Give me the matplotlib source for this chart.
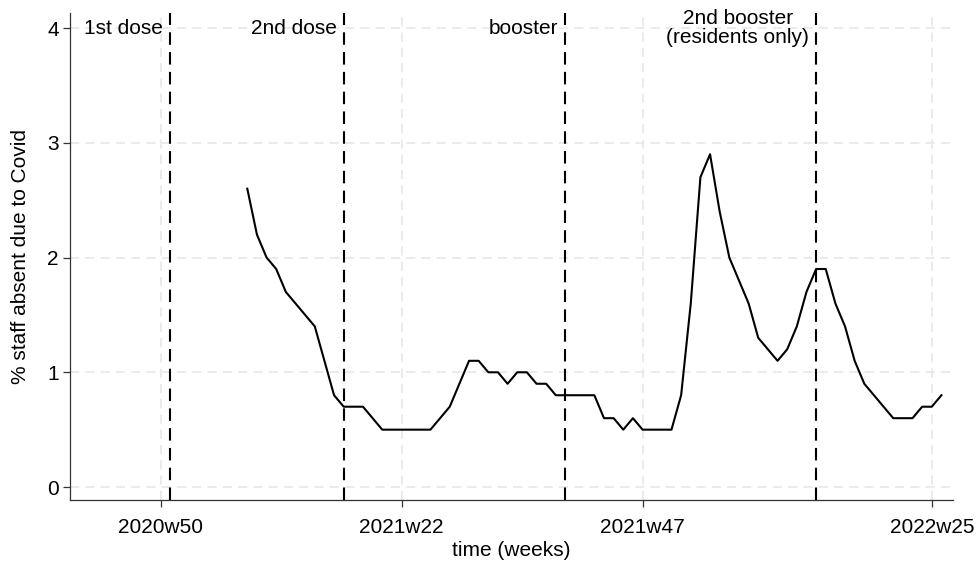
import numpy as np
import matplotlib
matplotlib.use("Agg")
import matplotlib.pyplot as plt

plt.rcParams['font.family'] = ['Liberation Sans', 'DejaVu Sans']

# weeks counted from 2020w50 (= 0)
first_week = 9
absent = [2.6, 2.2, 2.0, 1.9, 1.7, 1.6, 1.5, 1.4, 1.1, 0.8,
          0.7, 0.7, 0.7, 0.6, 0.5, 0.5, 0.5, 0.5, 0.5, 0.5,
          0.6, 0.7, 0.9, 1.1, 1.1, 1.0, 1.0, 0.9, 1.0, 1.0,
          0.9, 0.9, 0.8, 0.8, 0.8, 0.8, 0.8, 0.6, 0.6, 0.5,
          0.6, 0.5, 0.5, 0.5, 0.5, 0.8, 1.6, 2.7, 2.9, 2.4,
          2.0, 1.8, 1.6, 1.3, 1.2, 1.1, 1.2, 1.4, 1.7, 1.9,
          1.9, 1.6, 1.4, 1.1, 0.9, 0.8, 0.7, 0.6, 0.6, 0.6,
          0.7, 0.7, 0.8]
weeks = np.arange(first_week, first_week + len(absent))

tick_pos = [0, 25, 50, 80]
tick_labels = ['2020w50', '2021w22', '2021w47', '2022w25']

event_weeks = [1, 19, 42, 68]
event_labels = ['1st dose', '2nd dose', 'booster', '2nd booster\n(residents only)']

fs = 15

fig = plt.figure(figsize=(9.77, 5.63), dpi=100)
ax = fig.add_axes([70 / 977, 63 / 563, 883 / 977, 487 / 563])

ax.set_xlim(-9.39, 82.2)
ax.set_ylim(-0.113, 4.131)

grid_kw = dict(color='#e6e6e6', lw=1.1, ls=(0, (6, 4)), zorder=0)
for y in range(5):
    ax.axhline(y, **grid_kw)
for x in tick_pos:
    ax.axvline(x, **grid_kw)

for w, lab in zip(event_weeks, event_labels):
    ax.axvline(w, color='black', lw=1.5, ls=(0, (6, 3.5)), zorder=2)
    ax.annotate(lab, xy=(w, 4), xytext=(-5, 0), textcoords='offset points',
                ha='right', va='center', multialignment='center',
                fontsize=fs, linespacing=1.05)

ax.plot(weeks, absent, color='black', lw=1.5, zorder=3)

ax.set_xticks(tick_pos)
ax.set_xticklabels(tick_labels)
ax.set_yticks(range(5))
ax.tick_params(labelsize=fs, length=5, width=0.9, color='#333333', pad=3)
ax.tick_params(axis='x', pad=8)

for s in ['top', 'right']:
    ax.spines[s].set_visible(False)
for s in ['left', 'bottom']:
    ax.spines[s].set_color('#333333')
    ax.spines[s].set_linewidth(0.9)

ax.set_xlabel('time (weeks)', fontsize=fs, labelpad=3)
ax.set_ylabel('% staff absent due to Covid', fontsize=fs, labelpad=12)

fig.savefig('out.png', dpi=100)
